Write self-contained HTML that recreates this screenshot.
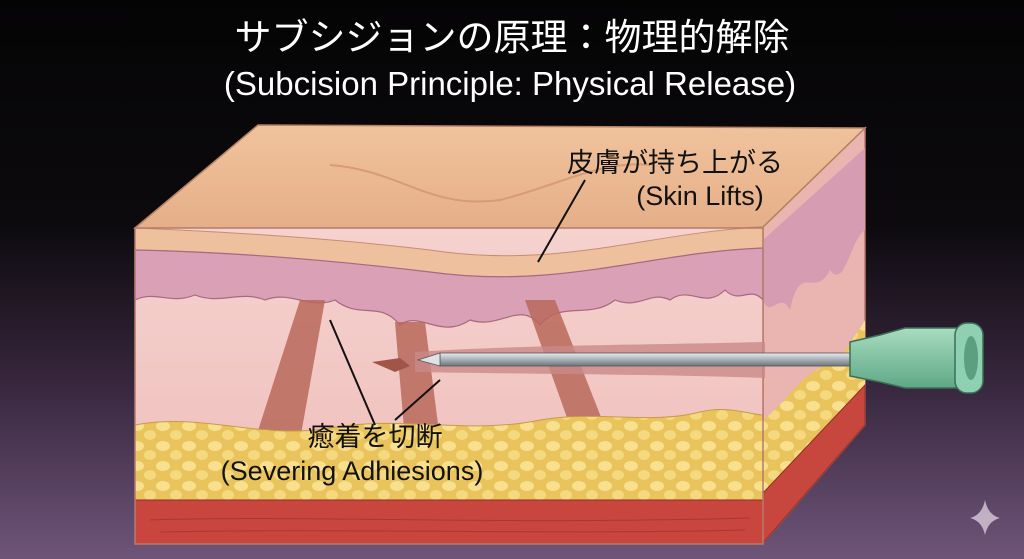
<!DOCTYPE html>
<html><head><meta charset="utf-8"><style>
html,body{margin:0;padding:0;}
body{width:1024px;height:559px;overflow:hidden;background:linear-gradient(180deg,#050405 0%,#0c0a0d 40%,#3a2840 70%,#6e5579 100%);}
svg{display:block}
</style></head><body>
<svg width="1024" height="559" viewBox="0 0 1024 559" xmlns="http://www.w3.org/2000/svg">
<defs>
<linearGradient id="top" x1="0" y1="0" x2="0" y2="1"><stop offset="0" stop-color="#f0c39c"/><stop offset="1" stop-color="#e2a983"/></linearGradient>
<linearGradient id="sub" x1="0" y1="0" x2="0" y2="1"><stop offset="0" stop-color="#f5d2cf"/><stop offset="1" stop-color="#eebcb8"/></linearGradient>
<linearGradient id="needle" x1="0" y1="0" x2="0" y2="1"><stop offset="0" stop-color="#e8ecef"/><stop offset="0.5" stop-color="#a9b1b8"/><stop offset="1" stop-color="#6d757c"/></linearGradient>
<linearGradient id="hub" x1="0" y1="0" x2="0" y2="1"><stop offset="0" stop-color="#a8dcc0"/><stop offset="1" stop-color="#5fa886"/></linearGradient>
<pattern id="fat" width="26" height="20" patternUnits="userSpaceOnUse"><rect width="26" height="20" fill="#e9c35b"/><ellipse cx="7" cy="6" rx="7" ry="5" fill="#f8e08e"/><ellipse cx="20" cy="15" rx="6" ry="5" fill="#f5d97e"/></pattern>
</defs>
<polygon points="763,227 865,128 865,425 763,543" fill="#eab5b1" stroke="#b77a6a" stroke-width="1.5"/>
<path d="M763,240 L865,148 L865,230 C850,240 845,290 830,270 C815,300 800,260 790,310 C780,290 770,320 763,300 Z" fill="#d69cb2"/>
<path d="M763,420 C790,400 800,370 840,360 C850,340 860,330 865,320 L865,385 L763,493 Z" fill="url(#fat)"/>
<polygon points="763,493 865,385 865,425 763,543" fill="#c7463e" stroke="#8f3029" stroke-width="1"/>
<path d="M135,228 L258,125 L865,128 L763,227 C650,232 560,270 430,250 C330,238 230,232 135,228 Z" fill="url(#top)" stroke="#b78060" stroke-width="1.5"/>
<path d="M330,165 C400,170 430,210 500,200 C560,185 600,160 650,165" fill="none" stroke="#d89b78" stroke-width="2"/>
<rect x="135" y="228" width="628" height="316" fill="url(#sub)"/>
<path d="M135,228 C230,232 330,238 430,250 C560,270 650,232 763,227 L763,248 C650,252 560,290 430,272 C330,260 230,252 135,250 Z" fill="#eec09e" stroke="#c48f70" stroke-width="1"/>
<path d="M135,250 C230,252 330,260 430,272 C560,290 650,252 763,248 L763,300 C750,285 740,305 725,290 C705,310 690,285 670,300 C650,290 640,310 615,300 C590,320 560,300 540,325 C520,300 500,330 470,320 C440,340 420,310 400,325 C380,300 360,320 335,300 C310,310 290,290 265,300 C240,290 220,305 195,295 C170,305 155,290 135,300 Z" fill="#d9a0b6" stroke="#a86882" stroke-width="1.2"/>
<path d="M300,300 L325,300 L300,440 L255,440 Z" fill="#b8695b" opacity="0.85"/>
<path d="M395,322 L425,322 L440,440 L405,440 Z" fill="#b8695b" opacity="0.85"/>
<path d="M525,300 L555,300 L610,440 L575,440 Z" fill="#b8695b" opacity="0.85"/>
<path d="M135,425 C200,412 260,440 330,428 C400,415 470,435 540,420 C600,410 650,425 700,412 C730,405 750,415 763,415 L763,500 L135,500 Z" fill="url(#fat)" stroke="#c99b45" stroke-width="1"/>
<rect x="135" y="500" width="628" height="44" fill="#c9463f" stroke="#8f3029" stroke-width="1"/>
<path d="M150,520 C300,515 500,525 750,518 M160,532 C350,528 550,535 745,530" stroke="#a83832" fill="none"/>
<rect x="135" y="228" width="628" height="316" fill="none" stroke="#b77a6a" stroke-width="1.5"/>
<path d="M415,352 C520,345 650,345 765,342 L765,378 C650,374 520,374 415,372 Z" fill="#c98a88" opacity="0.8"/>
<rect x="440" y="353" width="412" height="13" fill="url(#needle)" stroke="#555" stroke-width="0.8"/>
<path d="M440,353 L418,360 L440,366 Z" fill="#dfe3e6" stroke="#555" stroke-width="0.8"/>
<path d="M372,362 L400,358 L410,366 L395,372 Z" fill="#a05548"/>
<path d="M850,342 L880,335 L905,328 L960,328 L960,388 L905,388 L880,382 L850,376 Z" fill="url(#hub)" stroke="#3c6e58" stroke-width="1.5"/>
<rect x="955" y="323" width="28" height="70" rx="12" fill="#8fd0b2" stroke="#3c6e58" stroke-width="1.5"/>
<ellipse cx="971" cy="358" rx="7" ry="22" fill="#5b9e80"/>
<line x1="585" y1="180" x2="538" y2="262" stroke="#111" stroke-width="2"/>
<line x1="330" y1="320" x2="375" y2="425" stroke="#111" stroke-width="2"/>
<line x1="440" y1="380" x2="395" y2="420" stroke="#111" stroke-width="2"/>
<g font-family="Liberation Sans, Noto Sans CJK JP, sans-serif" fill="#111">
<text x="675" y="172" font-size="27" text-anchor="middle">皮膚が持ち上がる</text>
<text x="700" y="205" font-size="27" text-anchor="middle">(Skin Lifts)</text>
<text x="375" y="446" font-size="27" text-anchor="middle">癒着を切断</text>
<text x="352" y="480" font-size="27" text-anchor="middle">(Severing Adhiesions)</text>
</g>
<g font-family="Liberation Sans, Noto Sans CJK JP, sans-serif" fill="#fff" text-anchor="middle">
<text x="512" y="50" font-size="37">サブシジョンの原理：物理的解除</text>
<text x="510" y="95" font-size="33">(Subcision Principle: Physical Release)</text>
</g>
<path d="M985,500 Q988,515 1000,518 Q988,521 985,535 Q982,521 970,518 Q982,515 985,500 Z" fill="#d8cadb" opacity="0.8"/>
</svg>
</body></html>
